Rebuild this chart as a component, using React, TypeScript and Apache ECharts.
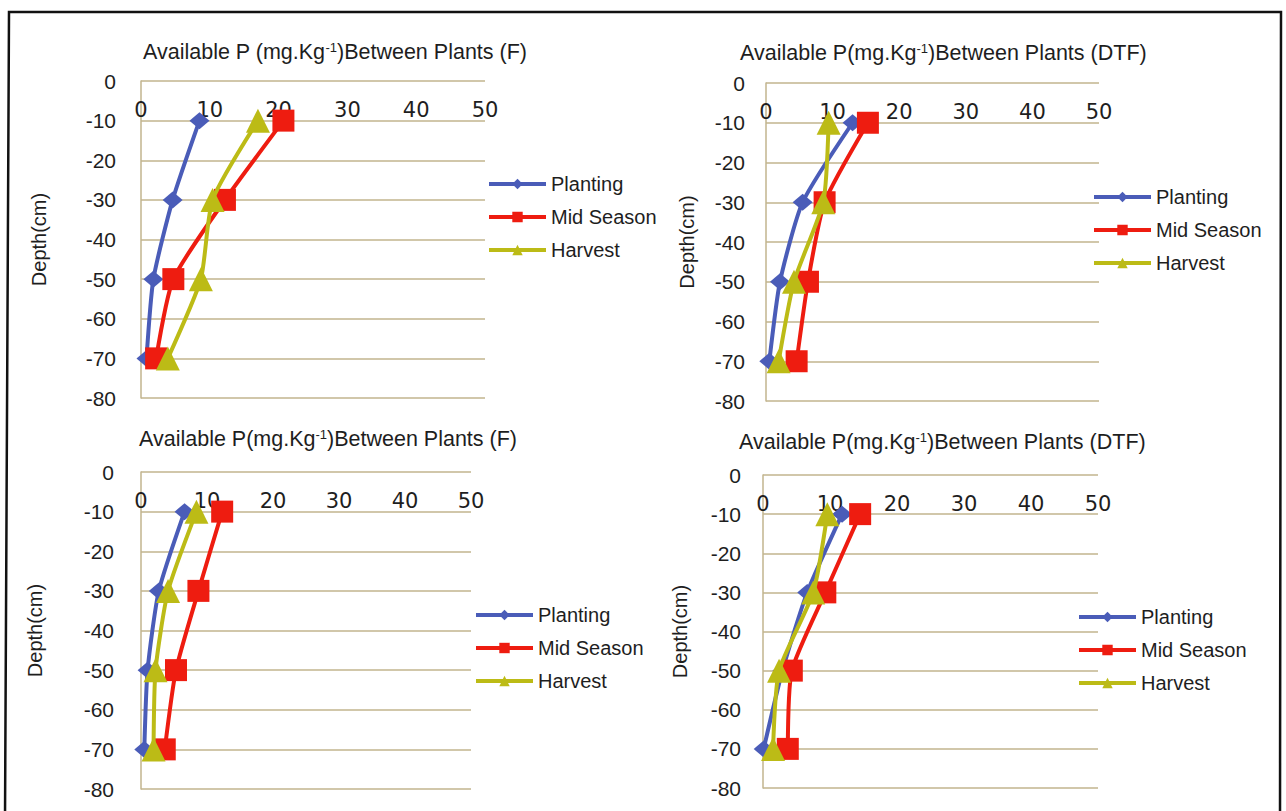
import React, { useEffect, useRef } from "react";
import * as echarts from "echarts";

// ---- data ----
const depths = [-10, -30, -50, -70];
const seriesNames = ["Planting", "Mid Season", "Harvest"];
const depthTicks = [0, -10, -20, -30, -40, -50, -60, -70, -80];
const availPTicks = [0, 10, 20, 30, 40, 50];

const titleTopF = "Available P (mg.Kg{sup|-1})Between Plants (F)";
const titleTopDTF = "Available P(mg.Kg{sup|-1})Between Plants (DTF)";
const titleBottomF = "Available P(mg.Kg{sup|-1})Between Plants (F)";
const titleBottomDTF = "Available P(mg.Kg{sup|-1})Between Plants (DTF)";

// top-left (F)
const plantingTopF = [8.5, 4.6, 1.8, 0.8];
const midSeasonTopF = [20.7, 12.2, 4.7, 2.2];
const harvestTopF = [17.0, 10.4, 8.7, 3.9];
// top-right (DTF)
const plantingTopDTF = [13.0, 5.5, 2.1, 0.5];
const midSeasonTopDTF = [15.3, 8.8, 6.3, 4.6];
const harvestTopDTF = [9.4, 8.6, 4.2, 1.9];
// bottom-left (F)
const plantingBottomF = [6.6, 2.7, 1.0, 0.5];
const midSeasonBottomF = [12.3, 8.7, 5.3, 3.6];
const harvestBottomF = [8.4, 4.1, 2.2, 1.9];
// bottom-right (DTF)
const plantingBottomDTF = [11.8, 6.6, 2.9, 0.1];
const midSeasonBottomDTF = [14.5, 9.3, 4.3, 3.7];
const harvestBottomDTF = [9.6, 7.5, 2.4, 1.5];

const panelData = [
  { title: titleTopF, values: [plantingTopF, midSeasonTopF, harvestTopF] },
  { title: titleTopDTF, values: [plantingTopDTF, midSeasonTopDTF, harvestTopDTF] },
  { title: titleBottomF, values: [plantingBottomF, midSeasonBottomF, harvestBottomF] },
  { title: titleBottomDTF, values: [plantingBottomDTF, midSeasonBottomDTF, harvestBottomDTF] },
];

// ---- layout / style ----
const layout = [
  { grid: { left: 141, top: 81, width: 344, height: 317 }, yLabelMargin: 25, nameGap: 92, title: { left: 143, top: 41 }, legend: { left: 487, top: 174 } },
  { grid: { left: 766, top: 83, width: 333, height: 318 }, yLabelMargin: 21, nameGap: 69, title: { left: 740, top: 42 }, legend: { left: 1092, top: 187 } },
  { grid: { left: 141, top: 472, width: 330, height: 317 }, yLabelMargin: 27, nameGap: 96, title: { left: 139, top: 428 }, legend: { left: 474, top: 605 } },
  { grid: { left: 763, top: 475, width: 335, height: 313 }, yLabelMargin: 22, nameGap: 73, title: { left: 739, top: 431 }, legend: { left: 1077, top: 607 } },
];

const colors = ["#4a5cb8", "#ee1c10", "#bcbb16"];
const symbols = ["diamond", "rect", "triangle"];
const symbolSizes: any[] = [[20, 17], 22, 24];
const gridColor = "#c2b58e";
const textColor = "#1e1e1e";
const sansFont = "Liberation Sans";

export default function App() {
  const ref = useRef<HTMLDivElement>(null);

  useEffect(() => {
    if (!ref.current) return;
    const chart = echarts.init(ref.current, undefined, { renderer: "svg" });

    const grids = layout.map((l) => ({ ...l.grid, containLabel: false }));
    const xAxes = layout.map((l, i) => ({
      gridIndex: i,
      type: "value",
      position: "top",
      min: availPTicks[0],
      max: availPTicks[availPTicks.length - 1],
      interval: availPTicks[1] - availPTicks[0],
      axisLine: { show: false },
      axisTick: { show: false },
      splitLine: { show: false },
      axisLabel: { inside: true, margin: 18, fontSize: 21, fontFamily: "DejaVu Sans", color: textColor },
    }));
    const yAxes = layout.map((l, i) => ({
      gridIndex: i,
      type: "value",
      min: depthTicks[depthTicks.length - 1],
      max: depthTicks[0],
      interval: depthTicks[0] - depthTicks[1],
      axisLine: { show: true, lineStyle: { color: gridColor, width: 1.5 } },
      axisTick: { show: false },
      splitLine: { show: true, lineStyle: { color: gridColor, width: 1.5 } },
      axisLabel: { margin: l.yLabelMargin, fontSize: 21, fontFamily: sansFont, color: textColor },
      name: "Depth(cm)",
      nameLocation: "middle",
      nameGap: l.nameGap,
      nameTextStyle: { fontSize: 20, fontFamily: sansFont, color: textColor },
    }));

    const series: any[] = [];
    panelData.forEach((p, i) => {
      p.values.forEach((vals, s) => {
        series.push({
          type: "line",
          name: seriesNames[s],
          xAxisIndex: i,
          yAxisIndex: i,
          data: vals.map((v, k) => [v, depths[k]]),
          symbol: symbols[s],
          symbolSize: symbolSizes[s],
          smooth: 0.2,
          lineStyle: { width: 4, color: colors[s] },
          itemStyle: { color: colors[s] },
          z: 2 + s,
        });
      });
    });

    const titles = panelData.map((p, i) => ({
      text: p.title,
      left: layout[i].title.left,
      top: layout[i].title.top,
      padding: 0,
      textStyle: {
        fontSize: 21.5,
        fontWeight: "normal",
        fontFamily: sansFont,
        color: textColor,
        rich: {
          sup: { fontSize: 13, verticalAlign: "top", fontFamily: sansFont, color: textColor },
        },
      },
    }));

    const legends = layout.map((l) => ({
      data: seriesNames,
      orient: "vertical",
      left: l.legend.left,
      top: l.legend.top,
      padding: 0,
      itemWidth: 57,
      itemHeight: 13,
      itemGap: 13,
      selectedMode: false,
      lineStyle: { width: 4 },
      textStyle: { fontSize: 20, fontFamily: sansFont, color: textColor },
    }));

    chart.setOption({
      animation: false,
      backgroundColor: "#ffffff",
      title: titles,
      legend: legends,
      grid: grids,
      xAxis: xAxes,
      yAxis: yAxes,
      series,
      graphic: [
        {
          type: "polygon",
          silent: true,
          shape: { points: [[9, 12], [1281, 12], [1280, 820], [5, 820]] },
          style: { fill: "none", stroke: "#111", lineWidth: 2.5 },
        },
      ],
    });

    return () => chart.dispose();
  }, []);

  return (
    <div
      ref={ref}
      style={{ position: "fixed", left: 0, top: 0, width: 1286, height: 811, background: "#fff" }}
    />
  );
}
